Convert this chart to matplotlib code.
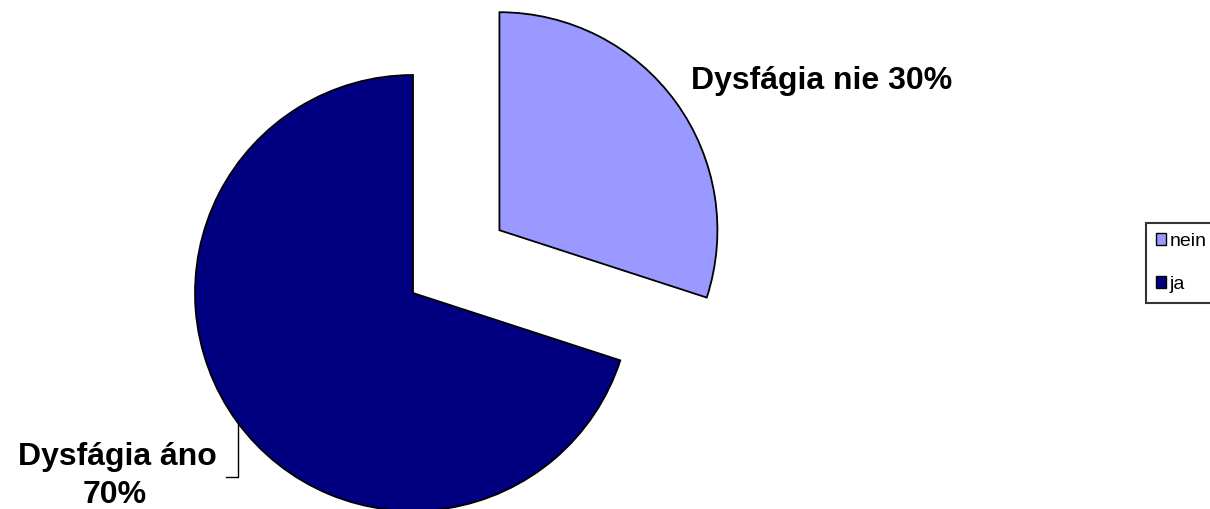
import matplotlib.pyplot as plt

labels = ["nein", "ja"]
values = [30, 70]
colors = ["#9999FF", "#000080"]
texts = ["Dysfágia nie 30%", "Dysfágia áno", "70%"]

plt.rcParams["font.family"] = ["Liberation Sans", "DejaVu Sans"]

W, H = 1210, 509
cx, cy, R = 413, 216, 218  # pie centre / radius in pixels

fig = plt.figure(figsize=(W / 100, H / 100), dpi=100)
ax = fig.add_axes([0, 0, 1, 1])

wedges, _ = ax.pie(
    values,
    colors=colors,
    startangle=90,
    counterclock=False,
    explode=[0.49, 0],
    wedgeprops=dict(edgecolor="black", linewidth=1.3),
)

ax.set_xlim(-cx / R, (W - cx) / R)
ax.set_ylim(-cy / R, (H - cy) / R)
ax.set_aspect("auto")
ax.axis("off")


def px(x, y):
    return (x - cx) / R, (H - y - cy) / R


ax.text(*px(822, 89), texts[0], fontsize=23, fontweight="bold",
        ha="center", va="baseline")
ax.text(*px(117, 465), texts[1], fontsize=23, fontweight="bold",
        ha="center", va="baseline")
ax.text(*px(115, 503), texts[2], fontsize=23, fontweight="bold",
        ha="center", va="baseline")
ax.plot(*zip(px(238, 423), px(238, 477), px(226, 477)),
        color="black", linewidth=1)

leg = ax.legend(
    wedges, labels,
    loc="upper left",
    bbox_to_anchor=(1146 / W, 1 - 223 / H),
    bbox_transform=fig.transFigure,
    fontsize=14,
    frameon=True,
    fancybox=False,
    edgecolor="black",
    handlelength=0.55,
    handleheight=0.55,
    handletextpad=0.18,
    labelspacing=1.35,
    borderpad=0.5,
    borderaxespad=0,
)
leg.get_frame().set_linewidth(1.5)
for h in leg.legend_handles:
    h.set_linewidth(1)

fig.savefig("out.png", dpi=100)
